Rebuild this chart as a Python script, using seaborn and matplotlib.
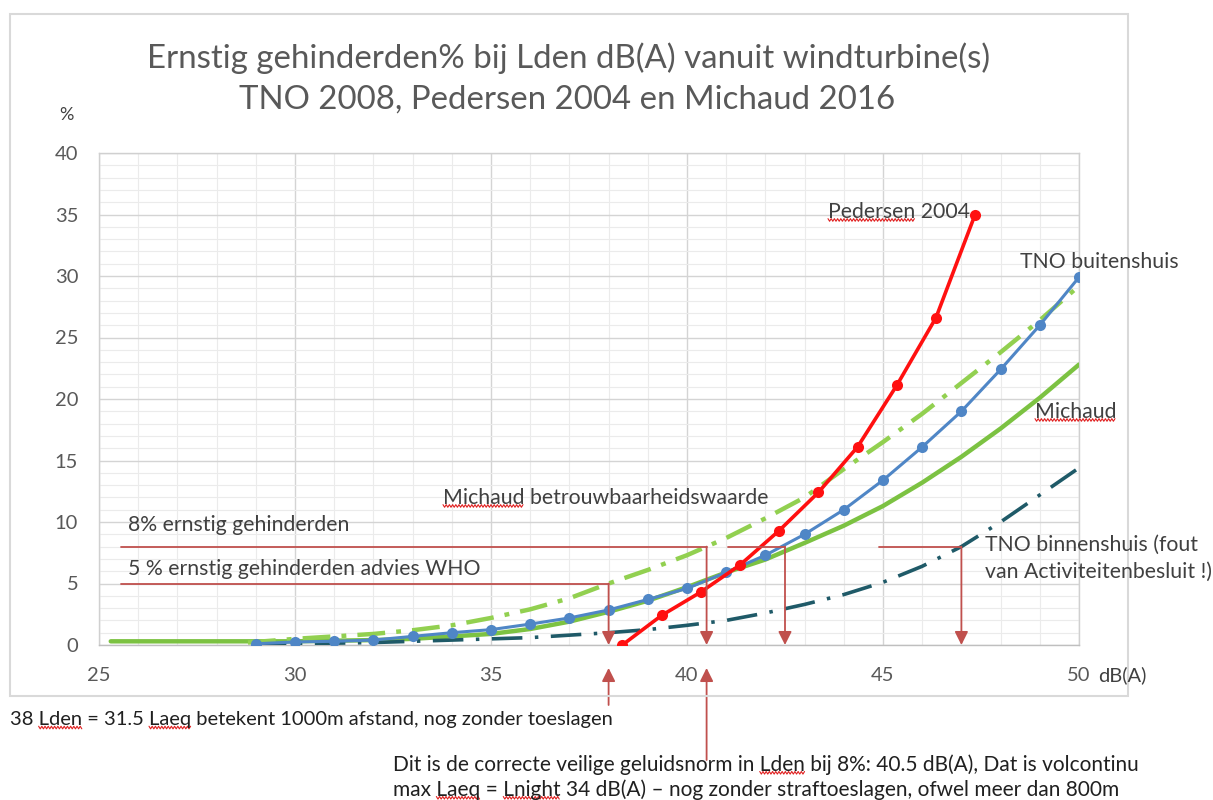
import matplotlib
matplotlib.use("Agg")
import numpy as np
import matplotlib.pyplot as plt
import seaborn as sns
from matplotlib.ticker import MultipleLocator
from matplotlib.patches import Rectangle
from matplotlib.lines import Line2D

# ---------------- data ----------------
tno_out_x = list(range(29, 51))
tno_out_y = [0.1, 0.25, 0.3, 0.4, 0.7, 1.0, 1.25, 1.7, 2.2, 2.85, 3.7, 4.6, 5.9,
             7.3, 9.0, 11.0, 13.4, 16.1, 19.0, 22.4, 26.0, 29.9]

ped_x = [38.35, 39.35, 40.35, 41.35, 42.35, 43.35, 44.35, 45.35, 46.35, 47.35]
ped_y = [0.0, 2.4, 4.3, 6.5, 9.3, 12.4, 16.1, 21.1, 26.6, 35.0]

mich_x = [25.3, 28, 30, 32, 33, 34, 35, 36, 37, 38, 39, 40, 41, 42, 43, 44, 45,
          46, 47, 48, 49, 50]
mich_y = [0.3, 0.3, 0.3, 0.4, 0.5, 0.7, 0.9, 1.3, 1.9, 2.7, 3.6, 4.7, 5.9, 6.95,
          8.3, 9.7, 11.3, 13.2, 15.3, 17.6, 20.1, 22.8]

mbw_x = [28.8, 30, 31, 32, 33, 34, 35, 36, 37, 38, 39, 40, 41, 42, 43, 44, 45,
         46, 47, 48, 49, 50]
mbw_y = [0.2, 0.5, 0.7, 0.9, 1.2, 1.6, 2.2, 2.9, 3.8, 5.0, 6.1, 7.3, 8.7, 10.3,
         12.0, 14.3, 16.5, 18.8, 21.3, 23.8, 26.4, 29.2]

tno_in_x = list(range(29, 51))
tno_in_y = [0.05, 0.1, 0.15, 0.2, 0.3, 0.4, 0.5, 0.6, 0.8, 1.0, 1.25, 1.6, 2.0,
            2.6, 3.3, 4.1, 5.1, 6.4, 8.0, 10.0, 12.2, 14.4]

x_ticks = [25, 30, 35, 40, 45, 50]
y_ticks = [0, 5, 10, 15, 20, 25, 30, 35, 40]

# reference lines: (y level, x start, x end) with arrow down at x end
ref_segments = [(8, 25.55, 40.5), (5, 25.55, 38.0), (8, 41.05, 42.5), (8, 44.9, 47.0)]
below_arrows = [38.0, 40.5]

title1 = "Ernstig gehinderden% bij Lden dB(A) vanuit windturbine(s)"
title2 = "TNO 2008, Pedersen 2004 en Michaud 2016"

# ---------------- styling ----------------
W, H = 1213, 800
sns.set_style("white")
plt.rcParams["font.family"] = ["Lato", "DejaVu Sans"]
plt.rcParams["lines.scale_dashes"] = False

C_RED = "#FF1010"
C_BLUE = "#4F86C6"
C_GREEN = "#7CC242"
C_GREEN2 = "#92D050"
C_TEAL = "#1F5A68"
C_ANN = "#C0504D"
C_TXT = "#595959"
C_DARK = "#404040"

fig = plt.figure(figsize=(W / 100, H / 100), dpi=100)
fig.patch.set_facecolor("white")


def fx(px):
    return px / W


def fy(py):
    return 1 - py / H


ax = fig.add_axes([fx(99), fy(645), 980 / W, 492 / H])

# series
sns.lineplot(x=mich_x, y=mich_y, ax=ax, color=C_GREEN, lw=3.2, sort=False,
             estimator=None, zorder=3)
sns.lineplot(x=mbw_x, y=mbw_y, ax=ax, color=C_GREEN2, lw=3.2, sort=False,
             estimator=None, zorder=3)
ax.lines[-1].set_dashes([20, 8, 3.5, 8])
sns.lineplot(x=tno_in_x, y=tno_in_y, ax=ax, color=C_TEAL, lw=2.6, sort=False,
             estimator=None, zorder=3)
ax.lines[-1].set_dashes([22, 9, 2.5, 9])
sns.lineplot(x=tno_out_x, y=tno_out_y, ax=ax, color=C_BLUE, lw=2.2, sort=False,
             estimator=None, marker="o", markersize=8, markeredgewidth=0, zorder=4)
sns.lineplot(x=ped_x, y=ped_y, ax=ax, color=C_RED, lw=2.6, sort=False,
             estimator=None, marker="o", markersize=8, markeredgewidth=0, zorder=5)

# reference lines and arrows
for yv, x0, x1 in ref_segments:
    ax.plot([x0, x1], [yv, yv], color=C_ANN, lw=1.3, zorder=6)
    ax.annotate("", xy=(x1, 0.0), xytext=(x1, yv),
                arrowprops=dict(arrowstyle="-|>", color=C_ANN, lw=1.3,
                                mutation_scale=20, shrinkA=0, shrinkB=0),
                zorder=6)

ytip = -23 / 492
ytails = [-60 / 492, -115 / 492]
for xa, yt in zip(below_arrows, ytails):
    ax.annotate("", xy=(xa, ytip), xycoords=("data", "axes fraction"),
                xytext=(xa, yt), textcoords=("data", "axes fraction"),
                arrowprops=dict(arrowstyle="-|>", color=C_ANN, lw=1.3,
                                mutation_scale=20, shrinkA=0, shrinkB=0),
                annotation_clip=False)

# axes
ax.set_xlim(25, 50)
ax.set_ylim(0, 40)
ax.set_xticks(x_ticks)
ax.set_yticks(y_ticks)
ax.xaxis.set_minor_locator(MultipleLocator(1))
ax.yaxis.set_minor_locator(MultipleLocator(1))
ax.grid(which="major", color="#D4D4D4", lw=1.0, zorder=0)
ax.grid(which="minor", color="#EBEBEB", lw=0.8, zorder=0)
ax.set_axisbelow(True)
ax.tick_params(which="both", length=0, labelsize=14.5, labelcolor=C_TXT)
ax.tick_params(axis="x", pad=16)
ax.tick_params(axis="y", pad=15)
for s in ax.spines.values():
    s.set_color("#D0D0D0")
    s.set_linewidth(1.0)
ax.spines["bottom"].set_color("#BFBFBF")
ax.set_xlabel("")
ax.set_ylabel("")

# outer chart border
fig.patches.append(Rectangle((fx(10), fy(696)), (1128 - 10) / W, (696 - 14) / H,
                             transform=fig.transFigure, fill=False,
                             edgecolor="#D9D9D9", lw=1.5))

# titles
fig.text(fx(569), fy(58), title1, ha="center", va="center", fontsize=23.8, color=C_TXT)
fig.text(fx(567), fy(100), title2, ha="center", va="center", fontsize=23.8, color=C_TXT)
fig.text(fx(66), fy(115), "%", ha="center", va="center", fontsize=13, color=C_DARK)
fig.text(fx(1098), fy(675), "dB(A)", ha="left", va="center", fontsize=14.5, color=C_DARK)

renderer = fig.canvas.get_renderer()


def text_width(s, size):
    t = fig.text(0, 0, s, fontsize=size)
    w = t.get_window_extent(renderer).width
    t.remove()
    return w


def put(px, py, s, size, color, squiggle=()):
    """Left-aligned text at pixel position; squiggle words get red wavy underline."""
    fig.text(fx(px), fy(py), s, ha="left", va="center", fontsize=size, color=color)
    for word, occ in squiggle:
        idx = -1
        for _ in range(occ):
            idx = s.find(word, idx + 1)
        x1 = px + text_width(s[:idx + len(word)], size)
        x0 = x1 - text_width(word, size)
        ybase = py + size * 0.52
        xs = np.arange(x0, x1 + 0.01, 1.6)
        ys = ybase + 1.3 * np.where(np.arange(len(xs)) % 2 == 0, -1, 1)
        fig.add_artist(Line2D(xs / W, 1 - ys / H, transform=fig.transFigure,
                              color="#E02020", lw=0.8))


# series labels
LS = 15.3
put(828, 212, "Pedersen 2004", LS, C_DARK, [("Pedersen", 1)])
put(1020, 262, "TNO buitenshuis", LS, C_DARK)
put(1035, 412, "Michaud", LS, C_DARK, [("Michaud", 1)])
put(443, 498, "Michaud betrouwbaarheidswaarde", LS, C_DARK, [("Michaud", 1)])
put(128, 525, "8% ernstig gehinderden", LS, C_DARK)
put(128, 569, "5 % ernstig gehinderden advies WHO", LS, C_DARK)
put(985, 545, "TNO binnenshuis (fout", LS, C_DARK)
put(985, 572, "van Activiteitenbesluit !)", LS, C_DARK)

# bottom notes
put(10, 720, "38 Lden = 31.5 Laeq betekent 1000m afstand, nog zonder toeslagen",
    14.5, "#202020", [("Lden", 1), ("Laeq", 1)])
put(393, 765, "Dit is de correcte veilige geluidsnorm in Lden bij 8%: 40.5 dB(A), Dat is volcontinu",
    15, "#202020", [("Lden", 1)])
put(393, 790, "max Laeq = Lnight 34 dB(A) \u2013 nog zonder straftoeslagen, ofwel meer dan 800m",
    15, "#202020", [("Laeq", 1), ("Lnight", 1)])

fig.savefig("out.png", dpi=100, facecolor="white")
